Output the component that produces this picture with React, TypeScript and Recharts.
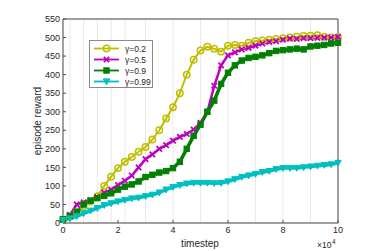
import { LineChart, Line, XAxis, YAxis, CartesianGrid } from "recharts";

// timestep in units of 1e4
const steps = [
  0, 0.25, 0.5, 0.75, 1, 1.25, 1.5, 1.75, 2, 2.25, 2.5, 2.75, 3, 3.25, 3.5, 3.75,
  4, 4.25, 4.5, 4.75, 5, 5.25, 5.5, 5.75, 6, 6.25, 6.5, 6.75, 7, 7.25, 7.5, 7.75,
  8, 8.25, 8.5, 8.75, 9, 9.25, 9.5, 9.75, 10,
];

const gamma02 = [
  10, 18, 30, 45, 58, 72, 100, 125, 148, 165, 178, 192, 205, 225, 250, 282,
  312, 350, 400, 440, 465, 475, 470, 462, 478, 480, 478, 486, 490, 492, 494, 496,
  498, 500, 502, 504, 505, 506, 502, 500, 501,
];

const gamma05 = [
  10, 22, 50, 56, 62, 70, 82, 90, 102, 114, 128, 150, 172, 185, 200, 210,
  222, 232, 240, 252, 270, 300, 370, 425, 452, 460, 468, 472, 478, 484, 488, 490,
  494, 497, 496, 498, 498, 499, 500, 500, 502,
];

const gamma09 = [
  10, 18, 30, 50, 60, 67, 73, 80, 90, 98, 104, 112, 124, 130, 136, 140,
  148, 165, 200, 235, 265, 300, 330, 375, 405, 425, 438, 445, 448, 452, 458, 464,
  466, 468, 470, 468, 476, 478, 480, 484, 486,
];

const gamma099 = [
  8, 12, 18, 26, 33, 40, 48, 53, 58, 62, 66, 68, 72, 76, 82, 90,
  97, 102, 106, 108, 108, 108, 107, 108, 112, 118, 124, 128, 132, 137, 140, 145,
  148, 148, 148, 150, 152, 154, 156, 158, 162,
];

const xTicks = [0, 2, 4, 6, 8, 10];
const yTicks = [0, 50, 100, 150, 200, 250, 300, 350, 400, 450, 500, 550];

const data = steps.map((t, i) => ({
  t,
  g02: gamma02[i],
  g05: gamma05[i],
  g09: gamma09[i],
  g099: gamma099[i],
}));

const YELLOW = "#bfbf00";
const MAGENTA = "#bf00bf";
const GREEN = "#008000";
const CYAN = "#00bfbf";
const AXIS = "#4d4d4d";
const TEXT = "#262626";
const FONT = "'Liberation Sans', Arial, sans-serif";

type Shape = "circle" | "cross" | "square" | "tri";

function Marker({ shape, color, cx, cy }: { shape: Shape; color: string; cx: number; cy: number }) {
  if (shape === "circle")
    return <circle cx={cx} cy={cy} r={3.2} fill="none" stroke={color} strokeWidth={1.5} />;
  if (shape === "cross")
    return (
      <g stroke={color} strokeWidth={1.8}>
        <line x1={cx - 2.7} y1={cy - 2.7} x2={cx + 2.7} y2={cy + 2.7} />
        <line x1={cx - 2.7} y1={cy + 2.7} x2={cx + 2.7} y2={cy - 2.7} />
      </g>
    );
  if (shape === "square")
    return <rect x={cx - 2.7} y={cy - 2.7} width={5.4} height={5.4} fill={color} stroke={color} />;
  return (
    <polygon
      points={`${cx - 3.2},${cy - 2.6} ${cx + 3.2},${cy - 2.6} ${cx},${cy + 3.2}`}
      fill={color}
      stroke={color}
    />
  );
}

const dotFor = (shape: Shape, color: string) => (p: any) =>
  p.cx == null ? <g key={p.index} /> : <Marker key={p.index} shape={shape} color={color} cx={p.cx} cy={p.cy} />;

const series = [
  { key: "g02", label: "γ=0.2", color: YELLOW, shape: "circle" as Shape, width: 2 },
  { key: "g05", label: "γ=0.5", color: MAGENTA, shape: "cross" as Shape, width: 2.5 },
  { key: "g09", label: "γ=0.9", color: GREEN, shape: "square" as Shape, width: 3.5 },
  { key: "g099", label: "γ=0.99", color: CYAN, shape: "tri" as Shape, width: 3.5 },
];

export default function App() {
  const tick = { fill: TEXT, fontSize: 9, fontFamily: FONT };
  return (
    <div style={{ position: "absolute", left: 0, top: 0, width: 374, height: 251, background: "#fff" }}>
      <LineChart width={374} height={251} data={data} margin={{ top: 0, right: 0, bottom: 0, left: 0 }}>
        <CartesianGrid stroke="#e3e3e3" strokeWidth={0.8} />
        <XAxis
          xAxisId="b"
          dataKey="t"
          type="number"
          domain={[0, 10]}
          ticks={xTicks}
          height={28}
          tick={tick}
          tickSize={-3}
          tickMargin={7}
          stroke={AXIS}
          interval={0}
        />
        <XAxis
          xAxisId="t"
          orientation="top"
          dataKey="t"
          type="number"
          domain={[0, 10]}
          ticks={xTicks}
          height={19}
          tick={false}
          tickSize={-3}
          stroke={AXIS}
        />
        <YAxis
          yAxisId="l"
          domain={[0, 550]}
          ticks={yTicks}
          width={63}
          tick={tick}
          tickSize={-3}
          tickMargin={6}
          stroke={AXIS}
          interval={0}
        />
        <YAxis
          yAxisId="r"
          orientation="right"
          domain={[0, 550]}
          ticks={yTicks}
          width={36}
          tick={false}
          tickSize={-3}
          stroke={AXIS}
        />
        {series.map((s) => (
          <Line
            key={s.key}
            xAxisId="b"
            yAxisId="l"
            dataKey={s.key}
            stroke={s.color}
            strokeWidth={s.width}
            dot={dotFor(s.shape, s.color)}
            activeDot={false}
            isAnimationActive={false}
          />
        ))}
      </LineChart>

      <div
        style={{
          position: "absolute",
          left: 89,
          top: 40,
          width: 64,
          height: 48,
          border: "1px solid #8a8a8a",
          background: "#fff",
          fontFamily: FONT,
          fontSize: 8.5,
          color: TEXT,
          boxSizing: "border-box",
          paddingTop: 2,
        }}
      >
        {series.map((s) => (
          <div key={s.key} style={{ display: "flex", alignItems: "center", height: 11 }}>
            <svg width={32} height={11} style={{ marginLeft: 3 }}>
              <line x1={1} y1={5.5} x2={26} y2={5.5} stroke={s.color} strokeWidth={1.8} />
              <Marker shape={s.shape} color={s.color} cx={13.5} cy={5.5} />
            </svg>
            <span>{s.label}</span>
          </div>
        ))}
      </div>

      <div
        style={{
          position: "absolute",
          left: 200,
          top: 238,
          transform: "translateX(-50%)",
          fontFamily: FONT,
          fontSize: 10,
          color: TEXT,
          whiteSpace: "nowrap",
        }}
      >
        timestep
      </div>
      <div
        style={{
          position: "absolute",
          left: 37,
          top: 121,
          transform: "translate(-50%, -50%) rotate(-90deg)",
          fontFamily: FONT,
          fontSize: 10,
          color: TEXT,
          whiteSpace: "nowrap",
        }}
      >
        episode reward
      </div>
      <div
        style={{
          position: "absolute",
          left: 317,
          top: 240,
          height: 10,
          fontFamily: FONT,
          fontSize: 8.5,
          lineHeight: "10px",
          color: TEXT,
          whiteSpace: "nowrap",
        }}
      >
        ×10
        <span style={{ fontSize: 6.5, position: "relative", top: -4, marginLeft: 0.5 }}>4</span>
      </div>
    </div>
  );
}
